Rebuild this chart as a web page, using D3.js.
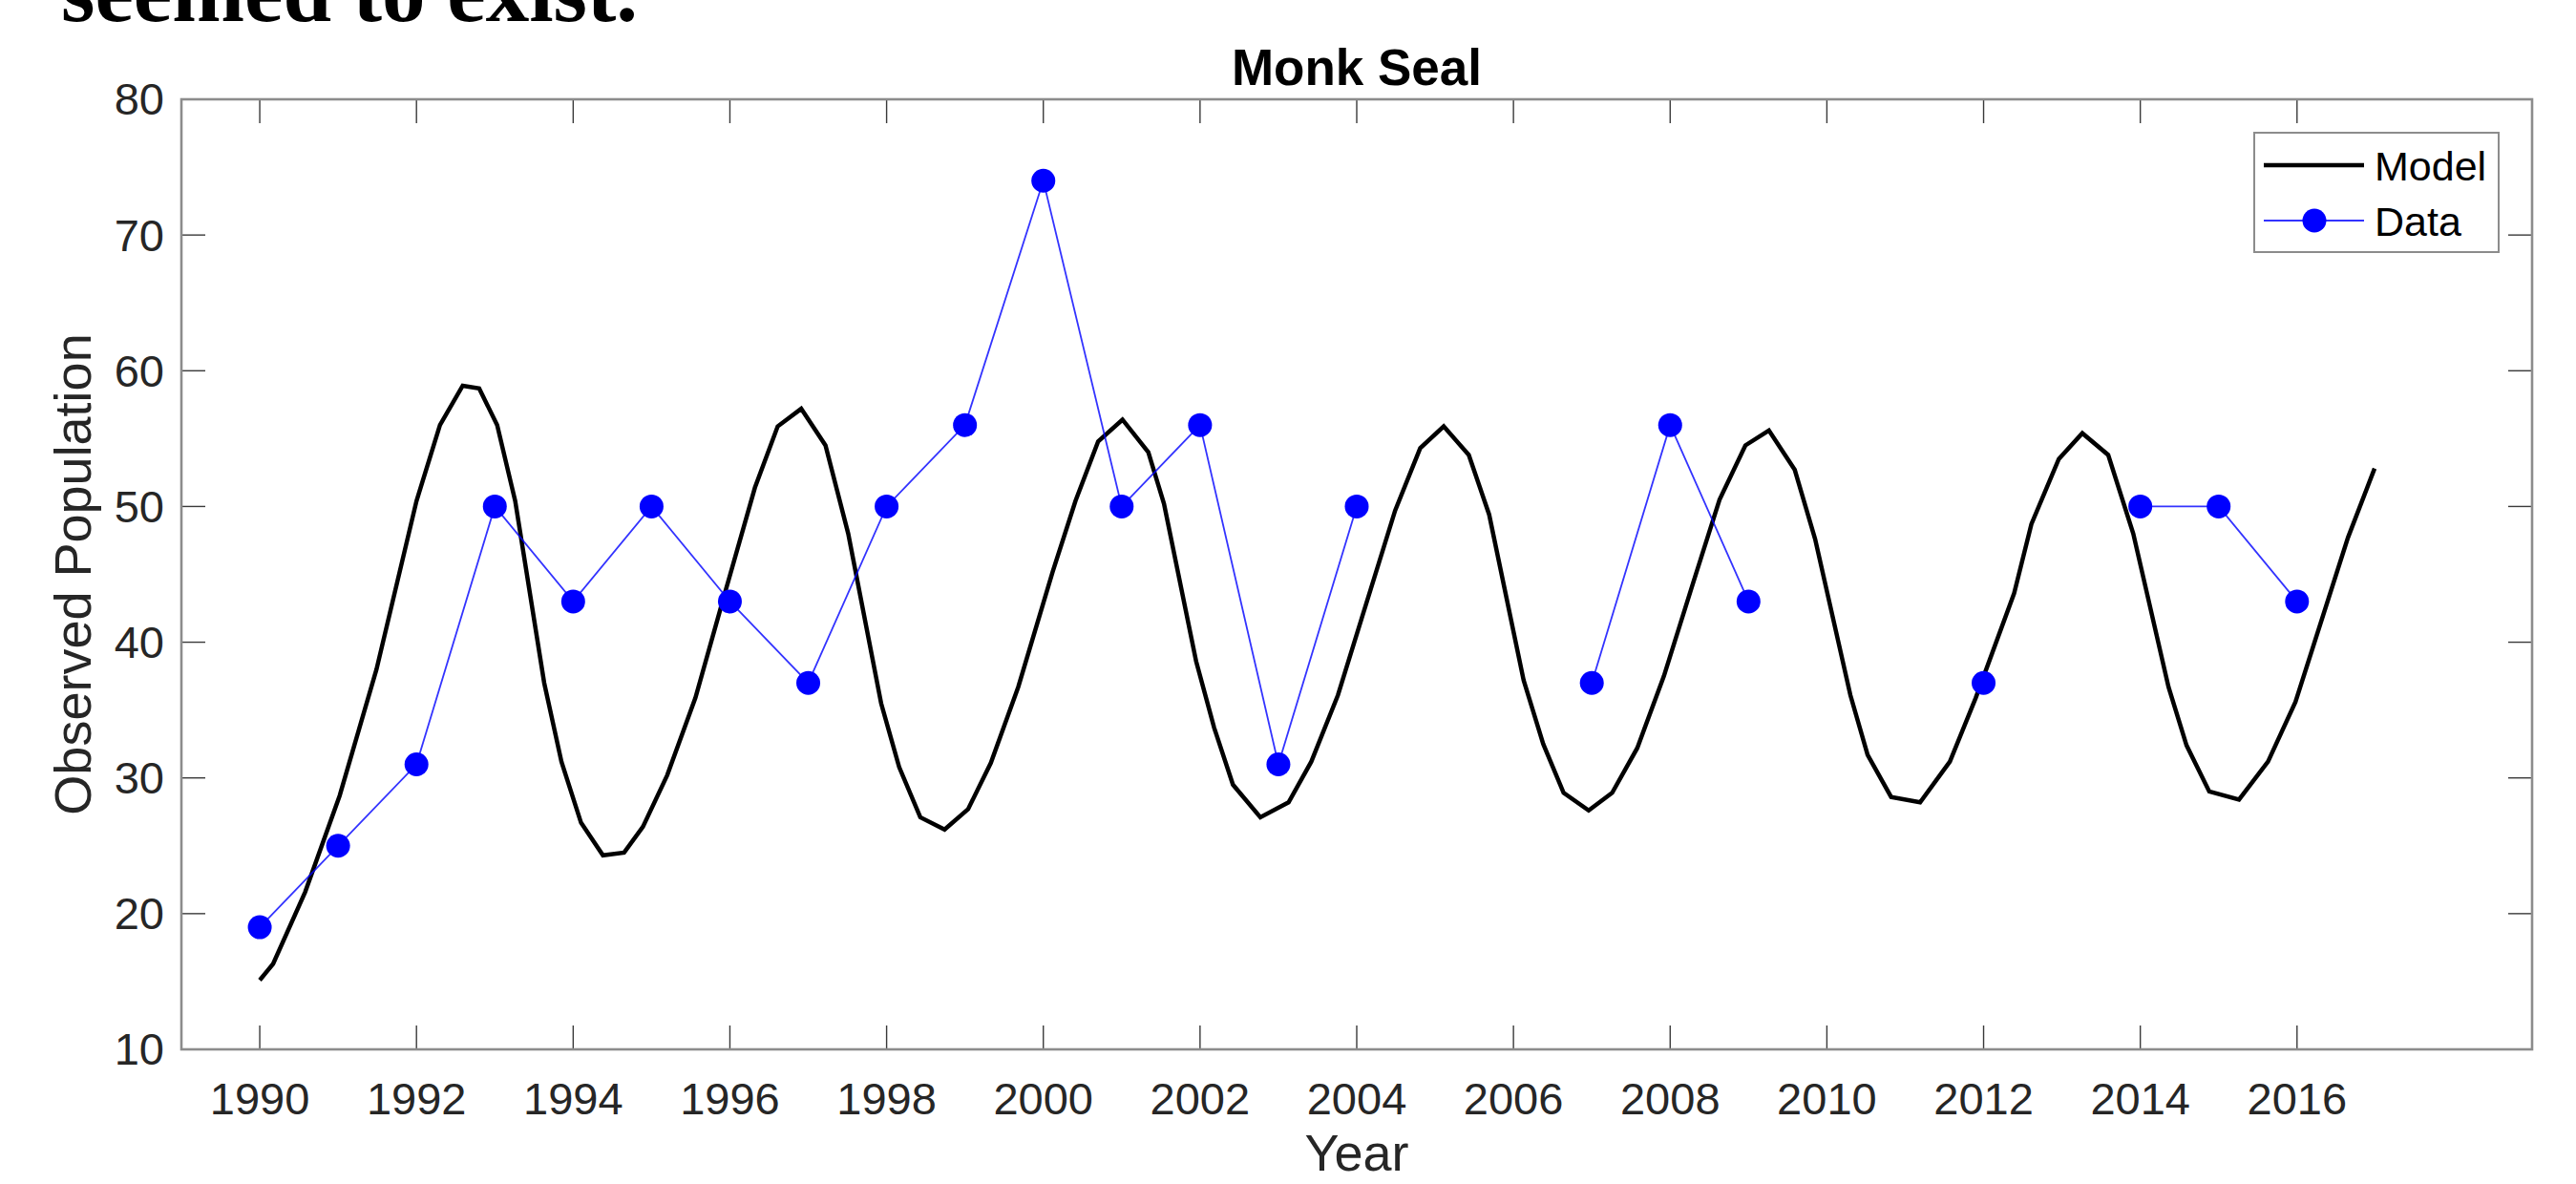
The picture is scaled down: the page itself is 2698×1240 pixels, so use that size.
<!DOCTYPE html>
<html>
<head>
<meta charset="utf-8">
<script src="https://cdn.jsdelivr.net/npm/d3@7"></script>
<style>
  html, body { margin: 0; padding: 0; background: #fff; }
  svg { display: block; }
  .tick-label { font-family: "Liberation Sans", Arial, sans-serif; font-size: 47px; fill: #262626; }
  .axis-label { font-family: "Liberation Sans", Arial, sans-serif; font-size: 54px; fill: #262626; }
  .chart-title { font-family: "Liberation Sans", Arial, sans-serif; font-size: 53px; font-weight: bold; fill: #000; }
  .legend-text { font-family: "Liberation Sans", Arial, sans-serif; font-size: 43px; fill: #000; }
  .page-text { font-family: "Liberation Serif", "Times New Roman", serif; font-size: 91px; font-weight: bold; fill: #000; }
</style>
</head>
<body>
<div id="chart"></div>
<script>
// Monk Seal: model curve vs observed counts

// model output (solver steps)
const modelYears = [
  1990.00, 1990.17, 1990.58, 1991.02, 1991.49, 1992.00, 1992.30, 1992.59, 1992.80, 1993.03,
  1993.26, 1993.63, 1993.85, 1994.10, 1994.38, 1994.65, 1994.89, 1995.20, 1995.56, 1995.95,
  1996.32, 1996.61, 1996.91, 1997.22, 1997.51, 1997.93, 1998.16, 1998.43, 1998.74, 1999.04,
  1999.33, 1999.68, 2000.12, 2000.41, 2000.70, 2001.01, 2001.34, 2001.54, 2001.95, 2002.18,
  2002.42, 2002.77, 2003.13, 2003.42, 2003.76, 2004.06, 2004.49, 2004.81, 2005.11, 2005.43,
  2005.69, 2006.13, 2006.38, 2006.64, 2006.96, 2007.26, 2007.58, 2007.92, 2008.30, 2008.63,
  2008.96, 2009.26, 2009.59, 2009.85, 2010.30, 2010.52, 2010.82, 2011.19, 2011.57, 2011.90,
  2012.39, 2012.61, 2012.96, 2013.26, 2013.59, 2013.91, 2014.36, 2014.59, 2014.88, 2015.26,
  2015.63, 2015.98, 2016.65, 2016.99
];
const modelValues = [
  15.1, 16.3, 21.6, 28.7, 38.0, 50.4, 56.0, 58.9, 58.7, 56.0,
  50.4, 37.0, 31.2, 26.7, 24.3, 24.5, 26.4, 30.2, 35.9, 43.9,
  51.4, 55.9, 57.2, 54.5, 48.0, 35.5, 30.8, 27.1, 26.2, 27.7,
  31.1, 36.7, 45.2, 50.4, 54.8, 56.4, 54.0, 50.2, 38.6, 33.7,
  29.5, 27.1, 28.2, 31.2, 36.1, 41.7, 49.7, 54.3, 55.9, 53.8,
  49.4, 37.2, 32.5, 28.9, 27.6, 28.9, 32.2, 37.5, 44.5, 50.5,
  54.5, 55.6, 52.7, 47.6, 36.1, 31.7, 28.6, 28.2, 31.2, 35.9,
  43.6, 48.7, 53.5, 55.4, 53.8, 48.0, 36.7, 32.4, 29.0, 28.4,
  31.2, 35.6, 47.7, 52.8
];

// observed counts, null = no survey that year
const dataYears = [
  1990, 1991, 1992, 1993, 1994, 1995, 1996, 1997, 1998, 1999,
  2000, 2001, 2002, 2003, 2004, 2005, 2006, 2007, 2008, 2009,
  2010, 2011, 2012, 2013, 2014, 2015, 2016
];
const dataCounts = [
  19, 25, 31, 50, 43, 50, 43, 37, 50, 56,
  74, 50, 56, 31, 50, null, null, 37, 56, 43,
  null, null, 37, null, 50, 50, 43
];

const xTicks = [1990, 1992, 1994, 1996, 1998, 2000, 2002, 2004, 2006, 2008, 2010, 2012, 2014, 2016];
const yTicks = [10, 20, 30, 40, 50, 60, 70, 80];
const legendItems = ["Model", "Data"];

const W = 2698, H = 1240;
const plot = { left: 190, right: 2652, top: 104, bottom: 1099 };
const tickLen = 25;
const BLUE = "#0000ff";

const svg = d3.select("#chart").append("svg")
  .attr("width", W)
  .attr("height", H);

// leftover line of the surrounding document, cut by the top edge
svg.append("text")
  .attr("class", "page-text")
  .attr("x", 64)
  .attr("y", 22)
  .text("seemed to exist.");

// SCALES
const x = d3.scaleLinear().domain([1989, 2019]).range([plot.left, plot.right]);
const y = d3.scaleLinear().domain([10, 80]).range([plot.bottom, plot.top]);

const g = svg.append("g");

// ticks (inward, all four sides)
g.append("g").selectAll("line.xb")
  .data(xTicks).join("line")
  .attr("x1", d => x(d)).attr("x2", d => x(d))
  .attr("y1", plot.bottom).attr("y2", plot.bottom - tickLen)
  .attr("stroke", "#3a3a3a").attr("stroke-width", 1.4);
g.append("g").selectAll("line.xt")
  .data(xTicks).join("line")
  .attr("x1", d => x(d)).attr("x2", d => x(d))
  .attr("y1", plot.top).attr("y2", plot.top + tickLen)
  .attr("stroke", "#3a3a3a").attr("stroke-width", 1.4);
g.append("g").selectAll("line.yl")
  .data(yTicks).join("line")
  .attr("x1", plot.left).attr("x2", plot.left + tickLen)
  .attr("y1", d => y(d)).attr("y2", d => y(d))
  .attr("stroke", "#3a3a3a").attr("stroke-width", 1.4);
g.append("g").selectAll("line.yr")
  .data(yTicks).join("line")
  .attr("x1", plot.right).attr("x2", plot.right - tickLen)
  .attr("y1", d => y(d)).attr("y2", d => y(d))
  .attr("stroke", "#3a3a3a").attr("stroke-width", 1.4);

// tick labels
g.append("g").selectAll("text")
  .data(xTicks).join("text")
  .attr("class", "tick-label")
  .attr("x", d => x(d))
  .attr("y", 1167)
  .attr("text-anchor", "middle")
  .text(d => d);
g.append("g").selectAll("text")
  .data(yTicks).join("text")
  .attr("class", "tick-label")
  .attr("x", 172)
  .attr("y", d => y(d))
  .attr("dy", "0.35em")
  .attr("text-anchor", "end")
  .text(d => d);

// MODEL LINE
const modelPts = modelYears.map((yr, i) => ({ yr, v: modelValues[i] }));
g.append("path")
  .datum(modelPts)
  .attr("d", d3.line().x(d => x(d.yr)).y(d => y(d.v)))
  .attr("fill", "none")
  .attr("stroke", "#000")
  .attr("stroke-width", 4.5)
  .attr("stroke-linejoin", "miter");

// DATA LINE + MARKERS
const dataPts = dataYears.map((yr, i) => ({ yr, v: dataCounts[i] }));
g.append("path")
  .datum(dataPts)
  .attr("d", d3.line().defined(d => d.v != null).x(d => x(d.yr)).y(d => y(d.v)))
  .attr("fill", "none")
  .attr("stroke", BLUE)
  .attr("stroke-opacity", 0.8)
  .attr("stroke-width", 1.8);
g.append("g").selectAll("circle")
  .data(dataPts.filter(d => d.v != null)).join("circle")
  .attr("cx", d => x(d.yr))
  .attr("cy", d => y(d.v))
  .attr("r", 12.5)
  .attr("fill", BLUE);

// axes box
g.append("rect")
  .attr("x", plot.left).attr("y", plot.top)
  .attr("width", plot.right - plot.left)
  .attr("height", plot.bottom - plot.top)
  .attr("fill", "none")
  .attr("stroke", "#8c8c8c")
  .attr("stroke-width", 2.6);

// title + axis labels
svg.append("text")
  .attr("class", "chart-title")
  .attr("x", (plot.left + plot.right) / 2)
  .attr("y", 89)
  .attr("text-anchor", "middle")
  .text("Monk Seal");
svg.append("text")
  .attr("class", "axis-label")
  .attr("x", (plot.left + plot.right) / 2)
  .attr("y", 1226)
  .attr("text-anchor", "middle")
  .text("Year");
svg.append("text")
  .attr("class", "axis-label")
  .attr("transform", "rotate(-90)")
  .attr("x", -(plot.top + plot.bottom) / 2)
  .attr("y", 95)
  .attr("text-anchor", "middle")
  .text("Observed Population");

// LEGEND
const lg = svg.append("g");
lg.append("rect")
  .attr("x", 2361).attr("y", 139)
  .attr("width", 256).attr("height", 125)
  .attr("fill", "#fff")
  .attr("stroke", "#8c8c8c")
  .attr("stroke-width", 2);
legendItems.forEach((name, i) => {
  const ly = 173 + i * 58;
  if (name === "Model") {
    lg.append("line")
      .attr("x1", 2371).attr("x2", 2476)
      .attr("y1", ly).attr("y2", ly)
      .attr("stroke", "#000").attr("stroke-width", 4.5);
  } else {
    lg.append("line")
      .attr("x1", 2371).attr("x2", 2476)
      .attr("y1", ly).attr("y2", ly)
      .attr("stroke", BLUE).attr("stroke-opacity", 0.8).attr("stroke-width", 1.8);
    lg.append("circle")
      .attr("cx", 2424).attr("cy", ly)
      .attr("r", 12.5)
      .attr("fill", BLUE);
  }
  lg.append("text")
    .attr("class", "legend-text")
    .attr("x", 2487)
    .attr("y", ly + 16)
    .text(name);
});
</script>
</body>
</html>
